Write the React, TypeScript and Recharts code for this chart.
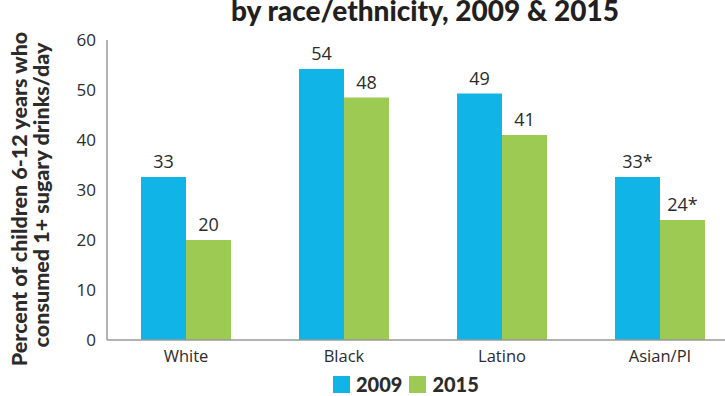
import React from "react";
import { BarChart, Bar, XAxis, YAxis, LabelList } from "recharts";

const categories = ["White", "Black", "Latino", "Asian/PI"];
const values2009 = [32.6, 54.2, 49.3, 32.6];
const values2015 = [20, 48.5, 41, 24];
const labels2009 = ["33", "54", "49", "33*"];
const labels2015 = ["20", "48", "41", "24*"];
const yTicks = [0, 10, 20, 30, 40, 50, 60];
const seriesNames = ["2009", "2015"];

const BLUE = "#10b4e6";
const GREEN = "#9dca52";
const TEXT = "#2b2b2b";

const data = categories.map((c, i) => ({
  name: c,
  v2009: values2009[i],
  v2015: values2015[i],
  l2009: labels2009[i],
  l2015: labels2015[i],
}));

export default function App() {
  return (
    <div
      style={{
        position: "absolute",
        left: 0,
        top: 0,
        width: 725,
        height: 396,
        overflow: "hidden",
        background: "#fff",
      }}
    >
      <div
        style={{
          position: "absolute",
          top: -7,
          left: 0,
          width: 850,
          textAlign: "center",
          fontFamily: "Lato, 'Open Sans', sans-serif",
          fontWeight: 900,
          fontSize: 28,
          color: "#231f20",
          whiteSpace: "nowrap",
        }}
      >
        by race/ethnicity, 2009 &amp; 2015
      </div>
      <svg width={60} height={396} style={{ position: "absolute", left: 0, top: 0 }}>
        <text
          transform="translate(27,199) rotate(-90)"
          textAnchor="middle"
          fontFamily="Lato, 'Open Sans', sans-serif"
          fontWeight={900}
          fontSize={21.5}
          fill={TEXT}
        >
          Percent of children 6-12 years who
        </text>
        <text
          transform="translate(49,195) rotate(-90)"
          textAnchor="middle"
          fontFamily="Lato, 'Open Sans', sans-serif"
          fontWeight={900}
          fontSize={21.5}
          fill={TEXT}
        >
          consumed 1+ sugary drinks/day
        </text>
      </svg>
      <div
        style={{
          position: "absolute",
          top: 372,
          left: 333,
          display: "flex",
          alignItems: "center",
          fontFamily: "Lato, 'Open Sans', sans-serif",
          fontWeight: 900,
          fontSize: 20,
          color: TEXT,
        }}
      >
        {seriesNames.map((s, i) => (
          <div key={s} style={{ display: "flex", alignItems: "center", marginRight: 7 }}>
            <div style={{ width: 17, height: 17, background: i === 0 ? BLUE : GREEN, marginRight: 6 }} />
            <span>{s}</span>
          </div>
        ))}
      </div>
      <div style={{ position: "absolute", left: 0, top: 0 }}>
        <BarChart
          width={745}
          height={396}
          data={data}
          margin={{ top: 40, right: 6, bottom: 26, left: 57 }}
          barGap={0}
          barCategoryGap={34}
        >
          <XAxis
            dataKey="name"
            height={30}
            axisLine={{ stroke: "#999", strokeWidth: 1.5 }}
            tickLine={false}
            tick={{ fill: TEXT, fontSize: 16.5, fontFamily: "'Open Sans', sans-serif" }}
            tickMargin={4}
          />
          <YAxis
            domain={[0, 60]}
            ticks={yTicks}
            width={50}
            axisLine={{ stroke: "#999", strokeWidth: 1.5 }}
            tickLine={false}
            tick={{ fill: TEXT, fontSize: 17, fontFamily: "'Open Sans', sans-serif" }}
            tickMargin={5}
          />
          <Bar dataKey="v2009" name={seriesNames[0]} fill={BLUE} isAnimationActive={false}>
            <LabelList
              dataKey="l2009"
              position="top"
              offset={9}
              fill={TEXT}
              fontSize={18}
              fontFamily="'Open Sans', sans-serif"
            />
          </Bar>
          <Bar dataKey="v2015" name={seriesNames[1]} fill={GREEN} isAnimationActive={false}>
            <LabelList
              dataKey="l2015"
              position="top"
              offset={9}
              fill={TEXT}
              fontSize={18}
              fontFamily="'Open Sans', sans-serif"
            />
          </Bar>
        </BarChart>
      </div>
    </div>
  );
}
